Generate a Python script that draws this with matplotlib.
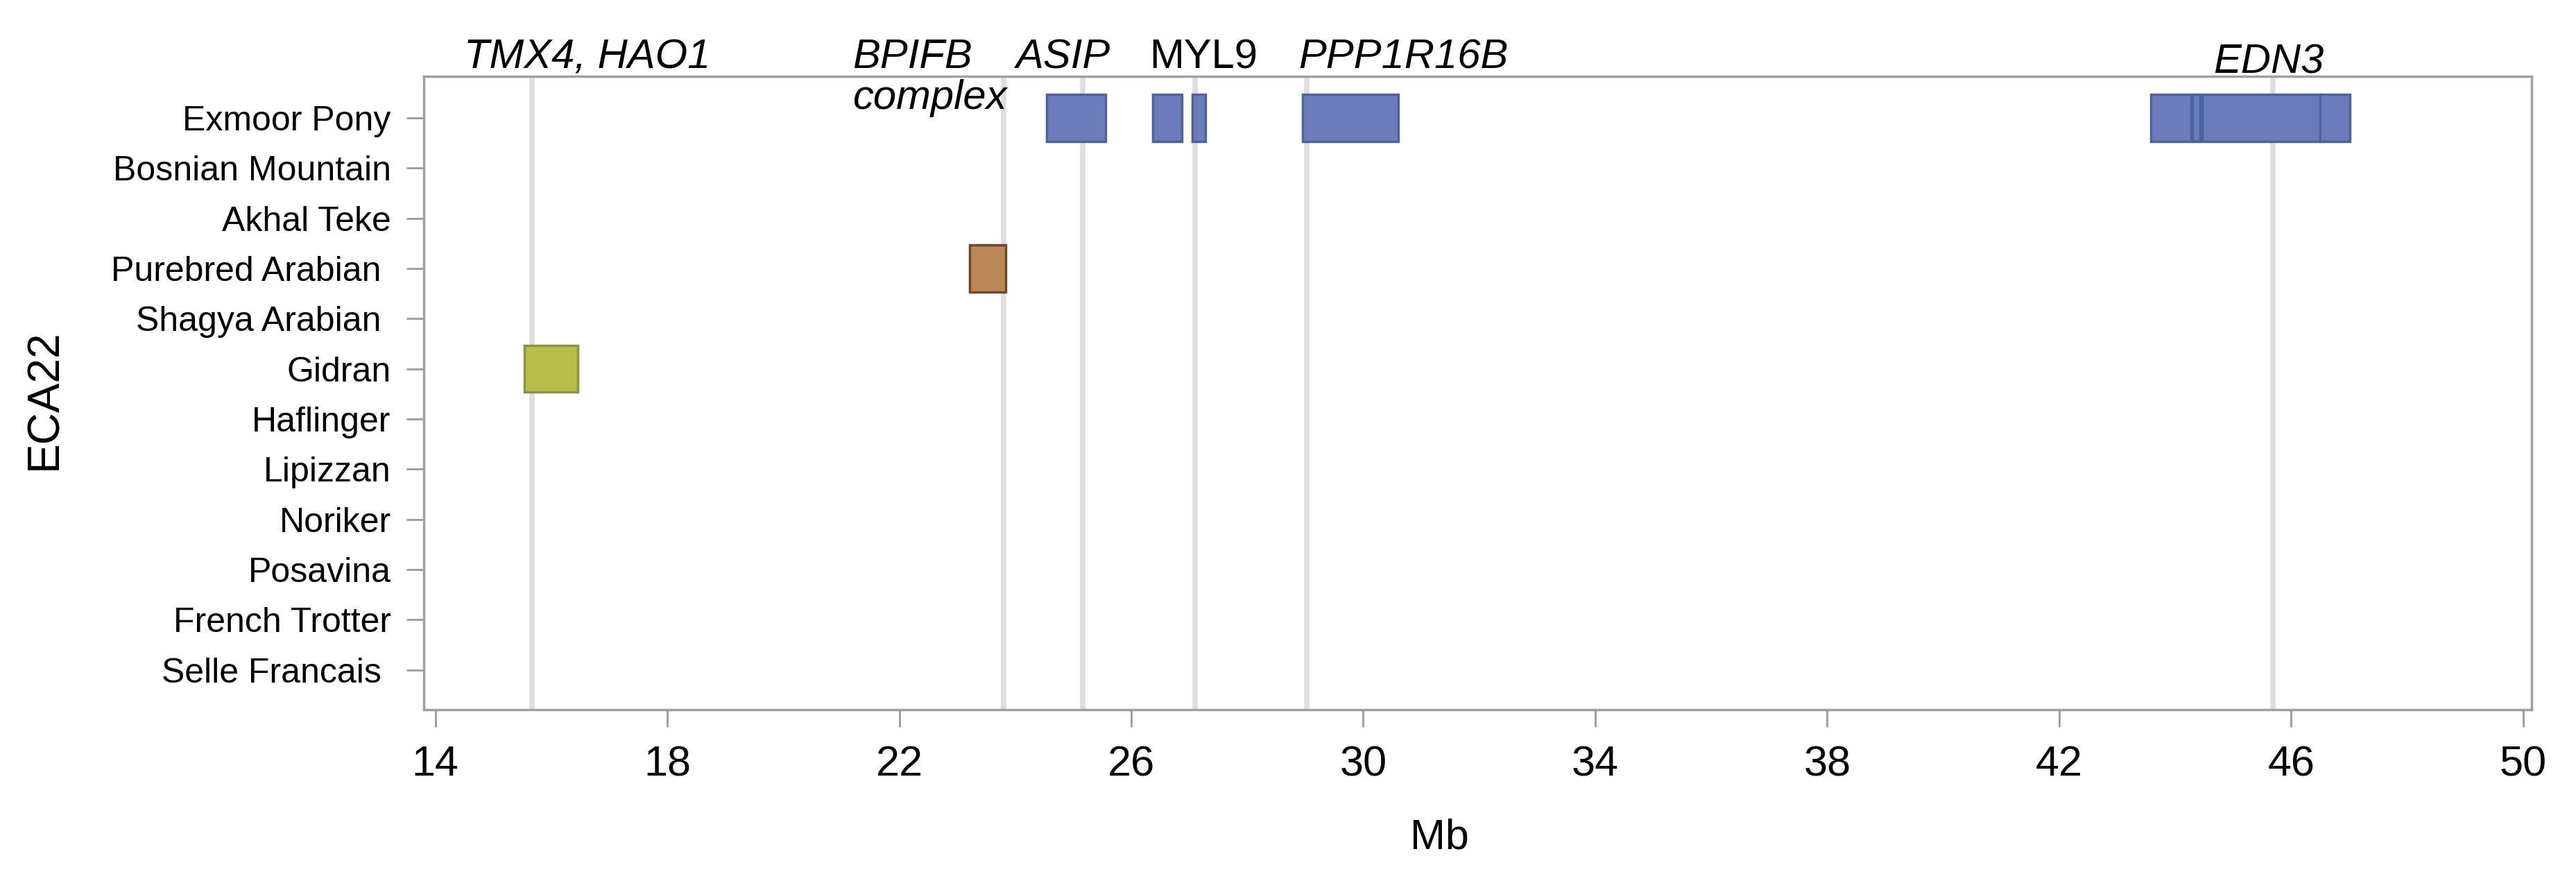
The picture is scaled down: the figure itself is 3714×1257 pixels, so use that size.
import matplotlib
matplotlib.use("Agg")
import matplotlib.pyplot as plt
import numpy as np

plt.rcParams['font.family'] = ['Liberation Sans', 'DejaVu Sans']

breeds = ["Exmoor Pony", "Bosnian Mountain", "Akhal Teke", "Purebred Arabian ",
          "Shagya Arabian ", "Gidran", "Haflinger", "Lipizzan", "Noriker",
          "Posavina", "French Trotter", "Selle Francais "]

# ROH islands on ECA22 (Mb)
roh_breed = ["Exmoor Pony", "Exmoor Pony", "Exmoor Pony", "Exmoor Pony",
             "Exmoor Pony", "Exmoor Pony", "Exmoor Pony", "Exmoor Pony",
             "Purebred Arabian ", "Gidran"]
roh_start = [24.54, 26.37, 27.05, 28.96, 43.58, 44.30, 44.47, 46.50, 23.21, 15.53]
roh_end = [25.56, 26.87, 27.28, 30.60, 44.28, 44.43, 46.50, 47.02, 23.84, 16.45]

breed_fill = {"Exmoor Pony": "#6A7CB9", "Purebred Arabian ": "#BA8757", "Gidran": "#B8BE4C"}
breed_edge = {"Exmoor Pony": "#4E62A0", "Purebred Arabian ": "#70482A", "Gidran": "#8C9338"}

gene_names = ["TMX4, HAO1", "BPIFB", "ASIP", "MYL9", "PPP1R16B", "EDN3"]
gene_pos = [15.67, 23.80, 25.16, 27.10, 29.03, 45.69]

xticks = [14, 18, 22, 26, 30, 34, 38, 42, 46, 50]

fig = plt.figure(figsize=(37.14, 12.57), dpi=100)
ax = fig.add_axes([0.1645, 0.1862, 0.8183, 0.7263])

for g in gene_pos:
    ax.axvline(g, color="#DEDEDE", lw=5.5, zorder=1)

ypos = {b: i for i, b in enumerate(breeds)}
for b, s, e in zip(roh_breed, roh_start, roh_end):
    ax.barh(ypos[b], e - s, left=s, height=0.93, color=breed_fill[b],
            edgecolor=breed_edge[b], linewidth=2.5, zorder=3)

ax.set_xlim(13.8, 50.15)
ax.set_ylim(len(breeds) - 0.21, -0.83)
ax.set_yticks(range(len(breeds)))
ax.set_yticklabels(breeds, fontsize=36)
ax.set_xticks(xticks)
ax.set_xticklabels([str(t) for t in xticks], fontsize=44)
ax.tick_params(axis='both', length=18, width=2, color="#9A9A9A")
ax.tick_params(axis='y', pad=16)
ax.tick_params(axis='x', pad=19)
for sp in ax.spines.values():
    sp.set_color("#A0A0A0")
    sp.set_linewidth(2.5)

ax.set_xlabel("Mb", fontsize=44)
ax.xaxis.set_label_coords(0.482, -0.171)
ax.set_ylabel("ECA22", fontsize=46)
ax.yaxis.set_label_coords(-0.17, 0.49)

# gene labels above the panel
label_x = [14.50, 21.19, 24.02, 26.31, 28.89, 44.66]
label_y = [1.013, 1.013, 1.013, 1.013, 1.013, 1.005]
for name, lx, ly in zip(gene_names, label_x, label_y):
    style = 'normal' if name == "MYL9" else 'italic'
    ax.text(lx, ly, name, transform=ax.get_xaxis_transform(), fontsize=43,
            style=style, ha='left', va='baseline', clip_on=False)
ax.text(21.19, 0.949, "complex", transform=ax.get_xaxis_transform(), fontsize=43,
        style='italic', ha='left', va='baseline', zorder=4)

fig.savefig("out.png", dpi=100)
